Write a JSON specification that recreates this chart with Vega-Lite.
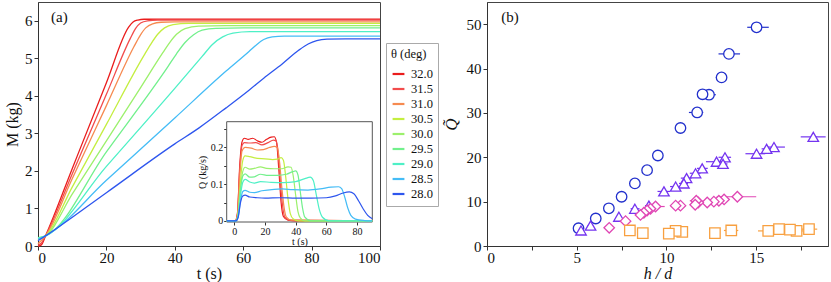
{
"$schema": "https://vega.github.io/schema/vega-lite/v6.json",
"background": "white",
"padding": {"left": 4, "top": 1, "right": 2, "bottom": 0},
"autosize": {"type": "pad"},
"config": {
  "font": "Liberation Serif",
  "style": {"guide-label": {"font": "Liberation Serif"}, "guide-title": {"font": "Liberation Serif"}},
  "view": {"stroke": "#444", "strokeWidth": 1},
  "axis": {"labelFont": "Liberation Serif", "titleFont": "Liberation Serif", "labelColor": "#111", "titleColor": "#111", "domainColor": "#333", "tickColor": "#333", "grid": false, "titleFontWeight": "normal", "labelFontSize": 15, "titleFontSize": 16, "tickSize": 4, "labelPadding": 2, "titlePadding": 4},
  "axisX": {"labelPadding": 0, "titlePadding": 0}
},
"datasets": {
  "M": [
    {"th":"32.0","t":0,"M":0.0},{"th":"32.0","t":1,"M":0.03},{"th":"32.0","t":2.2,"M":0.27},{"th":"32.0","t":10,"M":2.06},{"th":"32.0","t":20,"M":4.35},{"th":"32.0","t":26.5,"M":5.83},{"th":"32.0","t":27.8,"M":5.97},{"th":"32.0","t":29.2,"M":6.02},{"th":"32.0","t":31,"M":6.04},{"th":"32.0","t":40,"M":6.04},{"th":"32.0","t":100,"M":6.04},
    {"th":"31.5","t":0,"M":0.02},{"th":"31.5","t":1,"M":0.08},{"th":"31.5","t":2.2,"M":0.27},{"th":"31.5","t":10,"M":1.92},{"th":"31.5","t":20,"M":4.04},{"th":"31.5","t":27,"M":5.53},{"th":"31.5","t":28.5,"M":5.79},{"th":"31.5","t":30,"M":5.94},{"th":"31.5","t":32,"M":6.0},{"th":"31.5","t":35,"M":6.02},{"th":"31.5","t":100,"M":6.02},
    {"th":"31.0","t":0,"M":0.06},{"th":"31.0","t":2.2,"M":0.27},{"th":"31.0","t":10,"M":1.79},{"th":"31.0","t":20,"M":3.74},{"th":"31.0","t":28,"M":5.3},{"th":"31.0","t":29.8,"M":5.6},{"th":"31.0","t":31.5,"M":5.81},{"th":"31.0","t":33.5,"M":5.92},{"th":"31.0","t":36,"M":5.96},{"th":"31.0","t":40,"M":5.97},{"th":"31.0","t":100,"M":5.97},
    {"th":"30.5","t":0,"M":0.16},{"th":"30.5","t":2.2,"M":0.27},{"th":"30.5","t":10,"M":1.57},{"th":"30.5","t":20,"M":3.24},{"th":"30.5","t":31,"M":5.08},{"th":"30.5","t":33,"M":5.38},{"th":"30.5","t":35,"M":5.64},{"th":"30.5","t":37,"M":5.81},{"th":"30.5","t":39.5,"M":5.9},{"th":"30.5","t":44,"M":5.93},{"th":"30.5","t":100,"M":5.93},
    {"th":"30.0","t":0,"M":0.21},{"th":"30.0","t":2.2,"M":0.27},{"th":"30.0","t":10,"M":1.38},{"th":"30.0","t":20,"M":2.8},{"th":"30.0","t":30,"M":4.22},{"th":"30.0","t":36.5,"M":5.15},{"th":"30.0","t":38.5,"M":5.42},{"th":"30.0","t":40.5,"M":5.64},{"th":"30.0","t":43,"M":5.79},{"th":"30.0","t":47,"M":5.86},{"th":"30.0","t":55,"M":5.87},{"th":"30.0","t":100,"M":5.87},
    {"th":"29.5","t":0,"M":0.22},{"th":"29.5","t":2.2,"M":0.27},{"th":"29.5","t":20,"M":2.51},{"th":"29.5","t":38,"M":4.78},{"th":"29.5","t":40.5,"M":5.12},{"th":"29.5","t":43,"M":5.42},{"th":"29.5","t":45.5,"M":5.63},{"th":"29.5","t":48,"M":5.75},{"th":"29.5","t":52,"M":5.8},{"th":"29.5","t":60,"M":5.81},{"th":"29.5","t":100,"M":5.81},
    {"th":"29.0","t":0,"M":0.2},{"th":"29.0","t":2.2,"M":0.27},{"th":"29.0","t":20,"M":2.12},{"th":"29.0","t":40,"M":4.2},{"th":"29.0","t":48,"M":5.05},{"th":"29.0","t":51,"M":5.37},{"th":"29.0","t":54,"M":5.57},{"th":"29.0","t":57,"M":5.67},{"th":"29.0","t":62,"M":5.71},{"th":"29.0","t":100,"M":5.71},
    {"th":"28.5","t":0,"M":0.18},{"th":"28.5","t":2.2,"M":0.27},{"th":"28.5","t":20,"M":1.75},{"th":"28.5","t":40,"M":3.41},{"th":"28.5","t":55,"M":4.66},{"th":"28.5","t":61.7,"M":5.18},{"th":"28.5","t":64,"M":5.37},{"th":"28.5","t":66,"M":5.5},{"th":"28.5","t":68.5,"M":5.57},{"th":"28.5","t":72,"M":5.59},{"th":"28.5","t":100,"M":5.59},
    {"th":"28.0","t":0,"M":0.14},{"th":"28.0","t":2.2,"M":0.27},{"th":"28.0","t":20,"M":1.42},{"th":"28.0","t":40,"M":2.72},{"th":"28.0","t":47,"M":3.14},{"th":"28.0","t":55,"M":3.68},{"th":"28.0","t":61.7,"M":4.15},{"th":"28.0","t":66,"M":4.47},{"th":"28.0","t":71.4,"M":4.85},{"th":"28.0","t":76.3,"M":5.22},{"th":"28.0","t":79,"M":5.38},{"th":"28.0","t":81.5,"M":5.47},{"th":"28.0","t":84.5,"M":5.51},{"th":"28.0","t":90,"M":5.52},{"th":"28.0","t":100,"M":5.52}
  ],
  "Q": [
    {"th":"32.0","t":-5,"Q":0},{"th":"32.0","t":0.5,"Q":0},{"th":"32.0","t":2,"Q":0.02},{"th":"32.0","t":3.5,"Q":0.15},{"th":"32.0","t":5,"Q":0.215},{"th":"32.0","t":6.5,"Q":0.225},{"th":"32.0","t":9,"Q":0.222},{"th":"32.0","t":12,"Q":0.225},{"th":"32.0","t":15,"Q":0.218},{"th":"32.0","t":18,"Q":0.214},{"th":"32.0","t":21,"Q":0.222},{"th":"32.0","t":24,"Q":0.228},{"th":"32.0","t":26,"Q":0.229},{"th":"32.0","t":27.5,"Q":0.215},{"th":"32.0","t":29,"Q":0.14},{"th":"32.0","t":30.5,"Q":0.05},{"th":"32.0","t":32,"Q":0.012},{"th":"32.0","t":35,"Q":0.002},{"th":"32.0","t":40,"Q":0},{"th":"32.0","t":90,"Q":0},
    {"th":"31.5","t":-5,"Q":0},{"th":"31.5","t":0.5,"Q":0},{"th":"31.5","t":2,"Q":0.02},{"th":"31.5","t":3.5,"Q":0.14},{"th":"31.5","t":5,"Q":0.205},{"th":"31.5","t":6.5,"Q":0.213},{"th":"31.5","t":10,"Q":0.212},{"th":"31.5","t":14,"Q":0.213},{"th":"31.5","t":18,"Q":0.207},{"th":"31.5","t":22,"Q":0.213},{"th":"31.5","t":25.5,"Q":0.22},{"th":"31.5","t":27,"Q":0.218},{"th":"31.5","t":28.5,"Q":0.19},{"th":"31.5","t":30,"Q":0.11},{"th":"31.5","t":31.5,"Q":0.04},{"th":"31.5","t":33,"Q":0.01},{"th":"31.5","t":36,"Q":0.002},{"th":"31.5","t":90,"Q":0},
    {"th":"31.0","t":-5,"Q":0},{"th":"31.0","t":0.5,"Q":0},{"th":"31.0","t":2,"Q":0.015},{"th":"31.0","t":3.5,"Q":0.12},{"th":"31.0","t":5,"Q":0.19},{"th":"31.0","t":7,"Q":0.2},{"th":"31.0","t":11,"Q":0.198},{"th":"31.0","t":15,"Q":0.193},{"th":"31.0","t":19,"Q":0.194},{"th":"31.0","t":23,"Q":0.2},{"th":"31.0","t":26,"Q":0.203},{"th":"31.0","t":28,"Q":0.2},{"th":"31.0","t":29.5,"Q":0.16},{"th":"31.0","t":31,"Q":0.09},{"th":"31.0","t":32.5,"Q":0.035},{"th":"31.0","t":34,"Q":0.01},{"th":"31.0","t":37,"Q":0.002},{"th":"31.0","t":90,"Q":0},
    {"th":"30.5","t":-5,"Q":0},{"th":"30.5","t":1,"Q":0},{"th":"30.5","t":2.5,"Q":0.02},{"th":"30.5","t":4,"Q":0.11},{"th":"30.5","t":5.5,"Q":0.165},{"th":"30.5","t":7,"Q":0.177},{"th":"30.5","t":10,"Q":0.175},{"th":"30.5","t":15,"Q":0.17},{"th":"30.5","t":20,"Q":0.169},{"th":"30.5","t":25,"Q":0.167},{"th":"30.5","t":28,"Q":0.168},{"th":"30.5","t":30.5,"Q":0.172},{"th":"30.5","t":32,"Q":0.165},{"th":"30.5","t":33.5,"Q":0.12},{"th":"30.5","t":35,"Q":0.06},{"th":"30.5","t":36.5,"Q":0.02},{"th":"30.5","t":38.5,"Q":0.005},{"th":"30.5","t":42,"Q":0},{"th":"30.5","t":90,"Q":0},
    {"th":"30.0","t":-5,"Q":0},{"th":"30.0","t":1,"Q":0},{"th":"30.0","t":2.5,"Q":0.02},{"th":"30.0","t":4,"Q":0.09},{"th":"30.0","t":5.5,"Q":0.135},{"th":"30.0","t":7,"Q":0.146},{"th":"30.0","t":10,"Q":0.141},{"th":"30.0","t":13,"Q":0.143},{"th":"30.0","t":17,"Q":0.147},{"th":"30.0","t":21,"Q":0.143},{"th":"30.0","t":26,"Q":0.142},{"th":"30.0","t":31,"Q":0.142},{"th":"30.0","t":35,"Q":0.147},{"th":"30.0","t":37,"Q":0.146},{"th":"30.0","t":38.5,"Q":0.12},{"th":"30.0","t":40,"Q":0.07},{"th":"30.0","t":41.5,"Q":0.025},{"th":"30.0","t":43,"Q":0.008},{"th":"30.0","t":46,"Q":0},{"th":"30.0","t":90,"Q":0},
    {"th":"29.5","t":-5,"Q":0},{"th":"29.5","t":1,"Q":0},{"th":"29.5","t":2.5,"Q":0.02},{"th":"29.5","t":4,"Q":0.085},{"th":"29.5","t":5.5,"Q":0.122},{"th":"29.5","t":7,"Q":0.128},{"th":"29.5","t":10,"Q":0.119},{"th":"29.5","t":13,"Q":0.12},{"th":"29.5","t":17,"Q":0.127},{"th":"29.5","t":22,"Q":0.124},{"th":"29.5","t":28,"Q":0.124},{"th":"29.5","t":34,"Q":0.127},{"th":"29.5","t":38,"Q":0.134},{"th":"29.5","t":40,"Q":0.136},{"th":"29.5","t":41.5,"Q":0.125},{"th":"29.5","t":43,"Q":0.08},{"th":"29.5","t":44.5,"Q":0.035},{"th":"29.5","t":46,"Q":0.01},{"th":"29.5","t":50,"Q":0},{"th":"29.5","t":90,"Q":0},
    {"th":"29.0","t":-5,"Q":0},{"th":"29.0","t":1,"Q":0},{"th":"29.0","t":2.5,"Q":0.015},{"th":"29.0","t":4,"Q":0.07},{"th":"29.0","t":5.5,"Q":0.105},{"th":"29.0","t":7,"Q":0.113},{"th":"29.0","t":10,"Q":0.106},{"th":"29.0","t":13,"Q":0.103},{"th":"29.0","t":17,"Q":0.107},{"th":"29.0","t":24,"Q":0.105},{"th":"29.0","t":32,"Q":0.104},{"th":"29.0","t":40,"Q":0.107},{"th":"29.0","t":46,"Q":0.115},{"th":"29.0","t":49.5,"Q":0.119},{"th":"29.0","t":51.5,"Q":0.11},{"th":"29.0","t":53.5,"Q":0.07},{"th":"29.0","t":55.5,"Q":0.03},{"th":"29.0","t":57.5,"Q":0.01},{"th":"29.0","t":62,"Q":0},{"th":"29.0","t":90,"Q":0},
    {"th":"28.5","t":-5,"Q":0},{"th":"28.5","t":1,"Q":0},{"th":"28.5","t":2.5,"Q":0.012},{"th":"28.5","t":4,"Q":0.055},{"th":"28.5","t":5.5,"Q":0.08},{"th":"28.5","t":7,"Q":0.083},{"th":"28.5","t":10,"Q":0.078},{"th":"28.5","t":13,"Q":0.077},{"th":"28.5","t":18,"Q":0.082},{"th":"28.5","t":26,"Q":0.086},{"th":"28.5","t":31,"Q":0.087},{"th":"28.5","t":38,"Q":0.085},{"th":"28.5","t":48,"Q":0.084},{"th":"28.5","t":56,"Q":0.087},{"th":"28.5","t":63,"Q":0.092},{"th":"28.5","t":68,"Q":0.093},{"th":"28.5","t":70,"Q":0.088},{"th":"28.5","t":72,"Q":0.065},{"th":"28.5","t":74,"Q":0.035},{"th":"28.5","t":76,"Q":0.015},{"th":"28.5","t":79,"Q":0.005},{"th":"28.5","t":85,"Q":0.001},{"th":"28.5","t":90,"Q":0},
    {"th":"28.0","t":-5,"Q":0},{"th":"28.0","t":1,"Q":0},{"th":"28.0","t":2.5,"Q":0.01},{"th":"28.0","t":4,"Q":0.05},{"th":"28.0","t":5.5,"Q":0.068},{"th":"28.0","t":7,"Q":0.07},{"th":"28.0","t":10,"Q":0.065},{"th":"28.0","t":15,"Q":0.063},{"th":"28.0","t":20,"Q":0.062},{"th":"28.0","t":30,"Q":0.063},{"th":"28.0","t":40,"Q":0.062},{"th":"28.0","t":50,"Q":0.062},{"th":"28.0","t":60,"Q":0.063},{"th":"28.0","t":66,"Q":0.068},{"th":"28.0","t":71,"Q":0.076},{"th":"28.0","t":75,"Q":0.079},{"th":"28.0","t":78,"Q":0.074},{"th":"28.0","t":81,"Q":0.055},{"th":"28.0","t":84,"Q":0.033},{"th":"28.0","t":87,"Q":0.015},{"th":"28.0","t":90,"Q":0.006}
  ],
  "P": [
    {"s":"c","x":15.02,"y":49.3,"lo":14.5,"hi":15.7},{"s":"c","x":13.48,"y":43.3,"lo":12.9,"hi":14.1},{"s":"c","x":13.07,"y":38.0,"lo":12.75,"hi":13.35},{"s":"c","x":12.37,"y":34.1,"lo":11.95,"hi":12.75},{"s":"c","x":12.01,"y":34.2,"lo":11.8,"hi":12.2},{"s":"c","x":11.71,"y":30.1,"lo":11.25,"hi":12.05},{"s":"c","x":10.78,"y":26.6,"lo":10.6,"hi":10.95},{"s":"c","x":9.52,"y":20.4,"lo":9.4,"hi":9.65},{"s":"c","x":8.92,"y":17.1,"lo":8.8,"hi":9.05},{"s":"c","x":8.24,"y":14.1,"lo":8.1,"hi":8.35},{"s":"c","x":7.5,"y":11.1,"lo":7.4,"hi":7.6},{"s":"c","x":6.79,"y":8.5,"lo":6.7,"hi":6.9},{"s":"c","x":6.06,"y":6.2,"lo":5.95,"hi":6.15},{"s":"c","x":5.1,"y":4.0,"lo":4.95,"hi":5.25},
    {"s":"t","x":18.18,"y":24.6,"lo":17.48,"hi":18.87},{"s":"t","x":15.99,"y":22.3,"lo":15.5,"hi":16.6},{"s":"t","x":15.58,"y":21.9,"lo":15.3,"hi":15.9},{"s":"t","x":15.02,"y":20.8,"lo":14.4,"hi":15.5},{"s":"t","x":13.26,"y":20.0,"lo":12.9,"hi":13.6},{"s":"t","x":12.79,"y":19.0,"lo":12.2,"hi":13.3},{"s":"t","x":13.15,"y":18.5,"lo":12.9,"hi":13.4},{"s":"t","x":11.99,"y":17.5,"lo":11.7,"hi":12.3},{"s":"t","x":11.62,"y":16.4,"lo":11.3,"hi":11.9},{"s":"t","x":11.12,"y":15.3,"lo":10.8,"hi":11.4},{"s":"t","x":10.97,"y":14.1,"lo":10.7,"hi":11.2},{"s":"t","x":10.51,"y":13.4,"lo":10.2,"hi":10.8},{"s":"t","x":9.86,"y":12.3,"lo":9.5,"hi":10.2},{"s":"t","x":9.02,"y":9.1,"lo":8.8,"hi":9.3},{"s":"t","x":8.24,"y":8.4,"lo":8.0,"hi":8.5},{"s":"t","x":7.35,"y":6.6,"lo":7.2,"hi":7.5},{"s":"t","x":5.77,"y":4.6,"lo":5.6,"hi":5.9},{"s":"t","x":5.24,"y":3.5,"lo":5.1,"hi":5.4},
    {"s":"d","x":13.95,"y":11.1,"lo":12.8,"hi":15.0},{"s":"d","x":13.21,"y":10.5,"lo":12.9,"hi":13.5},{"s":"d","x":12.92,"y":10.2,"lo":12.6,"hi":13.2},{"s":"d","x":12.64,"y":10.0,"lo":12.2,"hi":13.0},{"s":"d","x":12.27,"y":9.8,"lo":11.9,"hi":12.6},{"s":"d","x":11.77,"y":9.8,"lo":11.4,"hi":12.1},{"s":"d","x":11.66,"y":10.2,"lo":11.3,"hi":12.0},{"s":"d","x":11.6,"y":9.3,"lo":11.3,"hi":11.9},{"s":"d","x":10.78,"y":9.1,"lo":10.5,"hi":11.0},{"s":"d","x":10.51,"y":9.1,"lo":10.3,"hi":10.7},{"s":"d","x":9.39,"y":8.9,"lo":9.1,"hi":9.9},{"s":"d","x":9.11,"y":8.4,"lo":8.9,"hi":9.3},{"s":"d","x":8.92,"y":8.0,"lo":8.7,"hi":9.1},{"s":"d","x":8.74,"y":7.5,"lo":8.6,"hi":8.9},{"s":"d","x":8.55,"y":7.0,"lo":8.4,"hi":8.7},{"s":"d","x":7.72,"y":5.6,"lo":7.6,"hi":7.85},{"s":"d","x":6.81,"y":4.1,"lo":6.7,"hi":6.9},
    {"s":"s","x":17.94,"y":3.8,"lo":17.5,"hi":18.4},{"s":"s","x":17.25,"y":3.4,"lo":16.9,"hi":17.6},{"s":"s","x":16.88,"y":3.7,"lo":16.5,"hi":17.2},{"s":"s","x":16.27,"y":3.8,"lo":15.9,"hi":16.7},{"s":"s","x":15.67,"y":3.4,"lo":15.1,"hi":16.2},{"s":"s","x":13.61,"y":3.5,"lo":13.2,"hi":14.0},{"s":"s","x":12.7,"y":2.9,"lo":12.5,"hi":12.9},{"s":"s","x":10.88,"y":3.2,"lo":10.6,"hi":11.1},{"s":"s","x":10.51,"y":3.4,"lo":10.3,"hi":10.7},{"s":"s","x":10.13,"y":2.8,"lo":9.9,"hi":10.4},{"s":"s","x":8.68,"y":2.9,"lo":8.6,"hi":8.8},{"s":"s","x":7.96,"y":3.5,"lo":7.8,"hi":8.1}
  ]
},
"spacing": 107,
"bounds": "flush",
"resolve": {"scale": {"color": "independent", "shape": "independent"}, "legend": {"color": "independent"}},
"hconcat": [
  {
    "width": 342,
    "height": 244,
    "layer": [
      {
        "layer": [
          {
            "data": {"name": "M"},
            "mark": {"type": "line", "interpolate": "monotone", "strokeWidth": 1.3},
            "encoding": {
              "x": {"field": "t", "type": "quantitative", "scale": {"domain": [0, 100], "nice": false}, "axis": {"orient": "bottom", "title": "t   (s)", "values": [0, 20, 40, 60, 80, 100], "labelFont": "Liberation Serif"}},
              "y": {"field": "M", "type": "quantitative", "scale": {"domain": [0, 6.5], "nice": false}, "axis": {"orient": "left", "title": "M   (kg)", "values": [0, 1, 2, 3, 4, 5, 6], "labelFont": "Liberation Serif"}},
              "color": {"field": "th", "type": "nominal",
                "scale": {"domain": ["32.0", "31.5", "31.0", "30.5", "30.0", "29.5", "29.0", "28.5", "28.0"], "range": ["#ea1c1c", "#f24c4c", "#f68a50", "#c4ee40", "#9cf06c", "#72f08c", "#4ef0c6", "#44bcf6", "#2e56ee"]},
                "legend": {"orient": "none", "legendX": 348, "legendY": 41, "title": "θ  (deg)", "fillColor": "white", "strokeColor": "#aaa", "padding": 5, "symbolType": "stroke", "symbolStrokeWidth": 2.2, "symbolSize": 140, "labelFontSize": 12.5, "titleFontSize": 12.5, "titleFontWeight": "normal", "rowPadding": 1, "titlePadding": 6, "labelOffset": 5, "labelFont": "Liberation Serif", "titleFont": "Liberation Serif", "labelColor": "#111", "titleColor": "#111"}}
            }
          },
          {
            "data": {"values": [{}]},
            "mark": {"type": "text", "align": "left", "baseline": "top", "fontSize": 15, "font": "Liberation Serif", "color": "#111"},
            "encoding": {
              "x": {"datum": 3.8, "type": "quantitative"},
              "y": {"datum": 6.3, "type": "quantitative"},
              "text": {"value": "(a)"}
            }
          }
        ]
      },
      {
        "layer": [
          {
            "data": {"values": [{}]},
            "mark": {"type": "rect", "fill": "white", "stroke": "#555", "strokeWidth": 1},
            "encoding": {
              "x": {"datum": -5, "type": "quantitative", "scale": {"domain": [-5, 90], "range": [188.7, 334.3], "nice": false},
                "axis": {"orient": "bottom", "title": "t   (s)", "values": [0, 20, 40, 60, 80], "offset": -24, "domain": false, "labelFontSize": 10, "titleFontSize": 10, "tickSize": 3, "labelPadding": 1, "titlePadding": 0}},
              "x2": {"datum": 90},
              "y": {"datum": -0.003, "type": "quantitative", "scale": {"domain": [-0.003, 0.27], "range": [220, 119.7], "nice": false},
                "axis": {"orient": "left", "title": "Q   (kg/s)", "values": [0, 0.05, 0.1, 0.15, 0.2, 0.25], "format": "~g", "labelExpr": "(datum.value == 0 || abs(datum.value - 0.1) < 0.001 || abs(datum.value - 0.2) < 0.001) ? datum.label : ''", "offset": -188.7, "domain": false, "labelFontSize": 10, "titleFontSize": 10, "tickSize": 3, "labelPadding": 1, "titlePadding": 3}},
              "y2": {"datum": 0.27}
            }
          },
          {
            "data": {"name": "Q"},
            "mark": {"type": "line", "interpolate": "monotone", "strokeWidth": 1.2},
            "encoding": {
              "x": {"field": "t", "type": "quantitative"},
              "y": {"field": "Q", "type": "quantitative"},
              "color": {"field": "th", "type": "nominal"}
            }
          }
        ]
      }
    ],
    "resolve": {"scale": {"x": "independent", "y": "independent"}, "axis": {"x": "independent", "y": "independent"}}
  },
  {
    "width": 341,
    "height": 244,
    "layer": [
      {
        "data": {"name": "P"},
        "mark": {"type": "rule", "strokeWidth": 1.2},
        "encoding": {
          "x": {"field": "lo", "type": "quantitative", "scale": {"domain": [0, 19], "nice": false},
            "axis": {"title": "h / d", "titleFontStyle": "italic", "values": [0, 2.5, 5, 7.5, 10, 12.5, 15, 17.5], "labelExpr": "datum.value % 5 == 0 ? datum.label : ''", "labelFont": "Liberation Serif"}},
          "x2": {"field": "hi"},
          "y": {"field": "y", "type": "quantitative", "scale": {"domain": [0, 55], "nice": false},
            "axis": {"title": "Q̃", "titleFontStyle": "italic", "titleFontSize": 17, "values": [0, 10, 20, 30, 40, 50], "titlePadding": 6, "labelFont": "Liberation Serif"}},
          "color": {"field": "s", "type": "nominal", "scale": {"domain": ["c", "t", "d", "s"], "range": ["#2230cc", "#7434f0", "#e046b4", "#f8a040"]}, "legend": null}
        }
      },
      {
        "data": {"name": "P"},
        "mark": {"type": "point", "filled": false, "fill": "white", "fillOpacity": 1, "strokeWidth": 1.3, "size": 110, "opacity": 1},
        "encoding": {
          "x": {"field": "x", "type": "quantitative"},
          "y": {"field": "y", "type": "quantitative"},
          "shape": {"field": "s", "type": "nominal", "scale": {"domain": ["c", "t", "d", "s"], "range": ["circle", "triangle-up", "diamond", "square"]}, "legend": null},
          "color": {"field": "s", "type": "nominal", "legend": null}
        }
      },
      {
        "data": {"values": [{}]},
        "mark": {"type": "text", "align": "left", "baseline": "top", "fontSize": 15, "font": "Liberation Serif", "color": "#111"},
        "encoding": {
          "x": {"datum": 0.8, "type": "quantitative"},
          "y": {"datum": 53.3, "type": "quantitative"},
          "text": {"value": "(b)"}
        }
      }
    ]
  }
]
}
